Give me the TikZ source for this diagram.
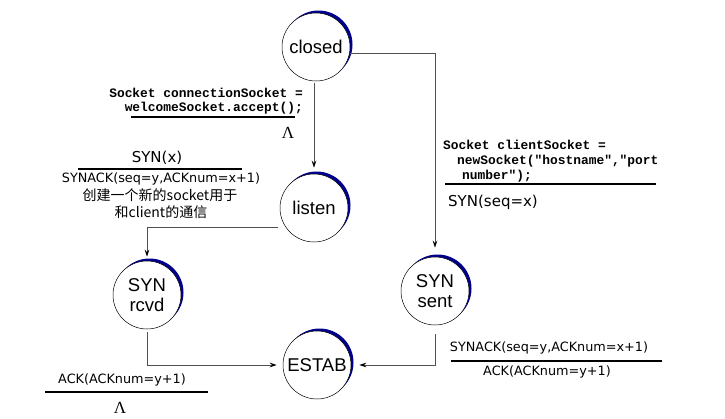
\documentclass[tikz,border=0pt]{standalone}
\usepackage{fontspec}
\setmainfont{DejaVu Sans}
\newfontfamily\statefont{Liberation Sans}
\newfontfamily\codefont{Liberation Mono}
\newfontfamily\cjkfont{Noto Sans CJK SC}
\newfontfamily\lamfont{Liberation Serif}
\usetikzlibrary{arrows.meta,shadows}
\definecolor{shadownavy}{RGB}{0,0,140}
\definecolor{conngray}{RGB}{80,80,80}
\begin{document}
\begin{tikzpicture}[x=1pt,y=-1pt,
  state/.style={circle,draw=black,line width=0.5pt,fill=white,minimum size=68pt,inner sep=0pt,
    font=\statefont\fontsize{18.5}{20}\selectfont,align=center,
    drop shadow={opacity=1,fill=shadownavy,shadow xshift=2.5pt,shadow yshift=2.5pt}},
  conn/.style={draw=conngray,line width=0.8pt,-{Stealth[length=7pt,width=4.5pt,black]}},
  lbl/.style={inner sep=0pt,font=\fontsize{12.8}{15}\selectfont},
  biglbl/.style={inner sep=0pt,font=\fontsize{15}{17}\selectfont},
  cjk/.style={inner sep=0pt,font=\cjkfont\fontsize{14}{16}\selectfont},
  code/.style={inner sep=0pt,font=\codefont\bfseries\fontsize{12.9}{15}\selectfont},
  lam/.style={inner sep=0pt,font=\lamfont\fontsize{17}{19}\selectfont},
  bar/.style={line width=1.4pt,black}]
\useasboundingbox (0,0) rectangle (725,418);

% states
\node[state] (closed) at (316,47) {closed};
\node[state] (listen) at (314,208) {listen};
\node[state] (synrcvd) at (147,295) {SYN\\rcvd};
\node[state] (synsent) at (435,291) {SYN\\sent};
\node[state] (estab) at (317,365) {ESTAB};

% connectors
\draw[conn,shorten <=2pt,shorten >=6pt] (closed.south -| listen.north) -- (listen.north);
\draw[conn,shorten >=9pt] (closed.-10) -| (synsent.north);
\draw[conn,shorten <=8pt,shorten >=4pt] (listen.214) -| (synrcvd.north);
\draw[conn,shorten <=3pt,shorten >=6pt] (synrcvd.south) |- (estab.west);
\draw[conn,shorten <=9pt,shorten >=8pt] (synsent.south) |- (estab.east);

% closed -> listen label
\node[code,anchor=east] (c1a) at (303,93) {Socket connectionSocket =};
\node[code,anchor=east] (c1b) at (303,108) {welcomeSocket.accept();};
\draw[bar] (131,117) -- (295,117);
\node[lam] (lam1) at (288,133) {Λ};

% listen -> SYN rcvd label
\node[biglbl] (synx) at (157,158) {SYN(x)};
\draw[bar] (78,169) -- (242,169);
\node[lbl] (synack1) at (161,179) {SYNACK(seq=y,ACKnum=x+1)};
\node[cjk] (cn1) at (160,195) {创建一个新的socket用于};
\node[cjk] (cn2) at (161,212) {和client的通信};

% closed -> SYN sent label
\node[code,anchor=west] (c2a) at (443,145) {Socket clientSocket =};
\node[code,anchor=west] (c2b) at (457,161) {newSocket("hostname","port};
\node[code,anchor=west] (c2c) at (462,176) {number");};
\draw[bar] (445,184) -- (656,184);
\node[biglbl,anchor=west] (synseq) at (448,202) {SYN(seq=x)};

% SYN sent -> ESTAB label
\node[lbl] (synack2) at (549,348) {SYNACK(seq=y,ACKnum=x+1)};
\draw[bar] (451,361) -- (662,361);
\node[lbl] (ack2) at (547,372) {ACK(ACKnum=y+1)};

% SYN rcvd -> ESTAB label
\node[lbl] (ack1) at (122,380) {ACK(ACKnum=y+1)};
\draw[bar] (45,392) -- (208,392);
\node[lam] (lam2) at (120,408) {Λ};
\end{tikzpicture}
\end{document}
